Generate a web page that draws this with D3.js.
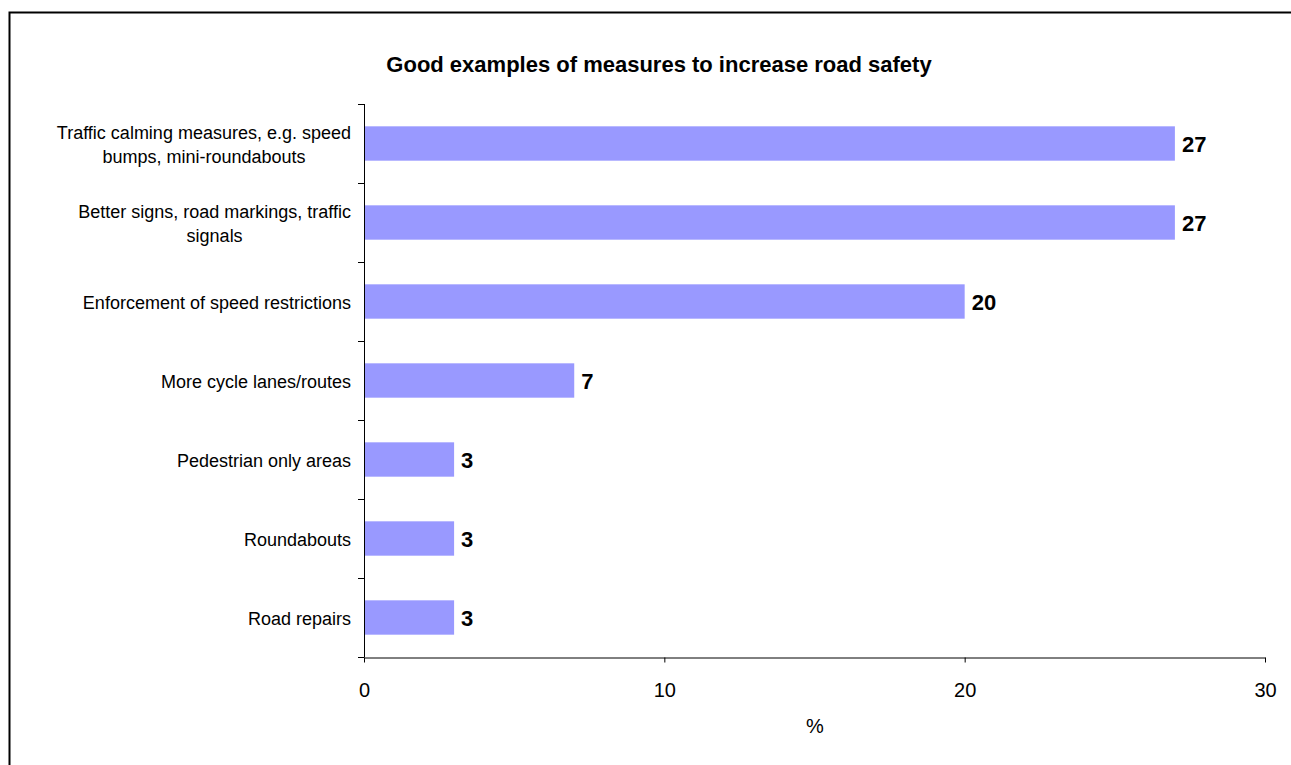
<!DOCTYPE html>
<html>
<head>
<meta charset="utf-8">
<script src="https://cdn.jsdelivr.net/npm/d3@7"></script>
<style>
  html, body { margin: 0; padding: 0; background: #fff; }
  svg { display: block; font-family: "Liberation Sans", Arial, sans-serif; }
</style>
</head>
<body>
<svg id="chart" width="1291" height="765"></svg>
<script>
// --- data ---
const categories = [
  "Traffic calming measures, e.g. speed\nbumps, mini-roundabouts",
  "Better signs, road markings, traffic\nsignals",
  "Enforcement of speed restrictions",
  "More cycle lanes/routes",
  "Pedestrian only areas",
  "Roundabouts",
  "Road repairs"
];
const values = [27, 27, 20, 7, 3, 3, 3];
const xTicks = [0, 10, 20, 30];
const title = "Good examples of measures to increase road safety";
const xLabel = "%";

const svg = d3.select("#chart");
const W = 1291, H = 765;

// outer frame (runs past the right and bottom edges)
svg.append("rect")
  .attr("x", 9.5).attr("y", 12.5)
  .attr("width", W + 10).attr("height", H + 10)
  .attr("fill", "#fff").attr("stroke", "#000").attr("stroke-width", 2);

const plot = { left: 364, right: 1265, top: 104, bottom: 657 };

const x = d3.scaleLinear().domain([0, 30]).range([plot.left, plot.right]);
const y = d3.scaleBand().domain(categories).range([plot.top, plot.bottom])
  .paddingInner(0.565).paddingOuter(0.2825);

// title
svg.append("text")
  .attr("x", 659).attr("y", 72)
  .attr("text-anchor", "middle")
  .attr("font-size", 22).attr("font-weight", "bold")
  .text(title);

// bars
svg.append("g").selectAll("rect")
  .data(values)
  .join("rect")
  .attr("x", x(0))
  .attr("y", (d, i) => y(categories[i]))
  .attr("width", d => x(d) - x(0))
  .attr("height", y.bandwidth())
  .attr("fill", "#9999ff");

// value labels
svg.append("g").selectAll("text")
  .data(values)
  .join("text")
  .attr("x", d => x(d) + 7)
  .attr("y", (d, i) => y(categories[i]) + y.bandwidth() / 2)
  .attr("dy", "0.38em")
  .attr("font-size", 22).attr("font-weight", "bold")
  .text(d => d);

// y axis: line + ticks at band boundaries
const yAxis = svg.append("g");
yAxis.append("line")
  .attr("x1", plot.left + 0.5).attr("x2", plot.left + 0.5)
  .attr("y1", plot.top).attr("y2", plot.bottom)
  .attr("stroke", "#000");
const step = (plot.bottom - plot.top) / categories.length;
yAxis.selectAll("line.tick")
  .data(d3.range(categories.length + 1))
  .join("line")
  .attr("class", "tick")
  .attr("x1", plot.left - 6).attr("x2", plot.left + 0.5)
  .attr("y1", i => Math.round(plot.top + i * step) + 0.5)
  .attr("y2", i => Math.round(plot.top + i * step) + 0.5)
  .attr("stroke", "#000");

// category labels, lines centred within a right-aligned block
const labelRight = 351;
const lineH = 23.5;
categories.forEach(c => {
  const lines = c.split("\n");
  const t = svg.append("text")
    .attr("font-size", 18)
    .attr("text-anchor", "middle");
  const spans = lines.map(ln => t.append("tspan").text(ln));
  const maxW = d3.max(spans, s => s.node().getComputedTextLength());
  const cx = labelRight - maxW / 2;
  const cy = y(c) + y.bandwidth() / 2 + 1;
  spans.forEach((s, k) => {
    s.attr("x", cx)
     .attr("y", cy + (k - (lines.length - 1) / 2) * lineH)
     .attr("dy", "0.36em");
  });
});

// x axis
const xAxis = svg.append("g")
  .attr("transform", `translate(0,${plot.bottom + 0.5})`)
  .call(d3.axisBottom(x).tickValues(xTicks).tickSize(5).tickSizeOuter(0).tickPadding(20));
xAxis.select(".domain").attr("stroke", "#000");
xAxis.selectAll(".tick line").attr("stroke", "#000");
xAxis.selectAll(".tick text")
  .attr("font-size", 20).attr("font-family", "Liberation Sans, Arial, sans-serif")
  .attr("fill", "#000");

svg.append("text")
  .attr("x", 815).attr("y", 733)
  .attr("text-anchor", "middle")
  .attr("font-size", 20)
  .text(xLabel);
</script>
</body>
</html>
